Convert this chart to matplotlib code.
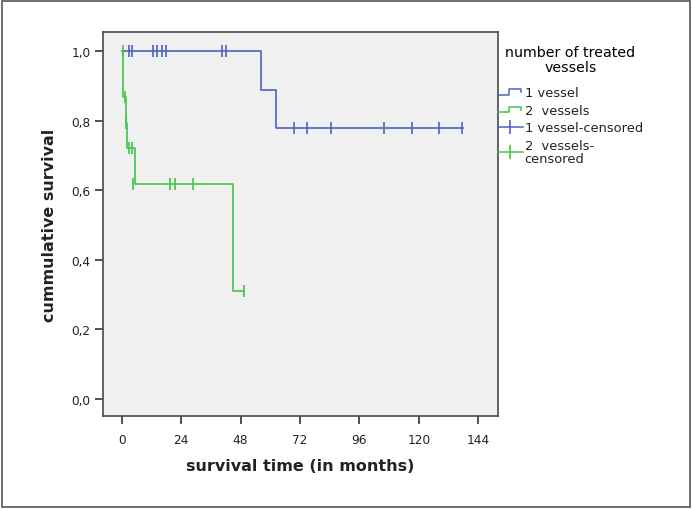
"""Kaplan-Meier survival by number of treated vessels (SPSS-style look)."""
import matplotlib
matplotlib.use("Agg")
import matplotlib.pyplot as plt
from matplotlib.legend_handler import HandlerBase
from matplotlib.lines import Line2D
from matplotlib.patches import Rectangle

BLUE, GREEN = "#4a63c2", "#44c44a"
FRAME, BG = "#4a4a4a", "#f0f0f0"

# 1 vessel: step curve (time in months, survival) and censored cases
one_t = [0.0, 56.3, 62.3, 138.0]
one_s = [1.0, 0.889, 0.778, 0.778]
one_cens_t = [3.1, 4.0, 12.8, 14.1, 16.2, 17.9, 40.4, 42.1,
              69.7, 75.0, 84.4, 106.1, 117.4, 128.1, 137.5]
one_cens_s = [1.0] * 8 + [0.778] * 7

# 2 vessels
two_t = [0.0, 0.6, 1.7, 2.3, 5.2, 45.1, 49.4]
two_s = [1.0, 0.867, 0.794, 0.722, 0.619, 0.309, 0.309]
two_cens_t = [0.6, 1.1, 1.9, 2.8, 4.1, 4.7, 19.5, 21.5, 28.7, 49.4]
two_cens_s = [1.0, 0.867, 0.794, 0.722, 0.722, 0.619, 0.619, 0.619,
              0.619, 0.309]

xticks = [0, 24, 48, 72, 96, 120, 144]
yticks = [0.0, 0.2, 0.4, 0.6, 0.8, 1.0]
ylabels = ["0,0", "0,2", "0,4", "0,6", "0,8", "1,0"]


class StepHandler(HandlerBase):
    def create_artists(self, legend, orig_handle, xdescent, ydescent,
                       width, height, fontsize, trans):
        x0, w, h = -xdescent, width, height
        lo, hi = -ydescent + 0.15 * h, -ydescent + 0.75 * h
        xs = [x0, x0 + 0.45 * w, x0 + 0.45 * w, x0 + 0.95 * w, x0 + 0.95 * w]
        ys = [lo, lo, hi, hi, hi - 0.35 * h]
        ln = Line2D(xs, ys, color=orig_handle.get_color(), lw=1.1,
                    transform=trans)
        return [ln]


fig = plt.figure(figsize=(6.92, 5.10), dpi=100)
fig.patches.append(Rectangle((0.003, 0.004), 0.994, 0.992, fill=False,
                             edgecolor="#555555", lw=1.2,
                             transform=fig.transFigure))
ax = fig.add_axes([0.1488, 0.1824, 0.5708, 0.7529])
ax.set_facecolor(BG)

ax.step(one_t, one_s, where="post", color=BLUE, lw=1.2)
ax.step(two_t, two_s, where="post", color=GREEN, lw=1.2)
ax.plot(one_cens_t, one_cens_s, "|", color=BLUE, ms=8, mew=1.2)
ax.plot(two_cens_t, two_cens_s, "|", color=GREEN, ms=8, mew=1.2)

ax.set_xlim(-7.6, 152.0)
ax.set_ylim(-0.049, 1.055)
ax.set_xticks(xticks)
ax.set_yticks(yticks)
ax.set_yticklabels(ylabels)
ax.tick_params(axis="both", direction="out", length=6, width=1.2,
               color="#333333", labelsize=8.7, labelcolor="#222222", pad=3)
ax.tick_params(axis="x", pad=6)
for s in ax.spines.values():
    s.set_color(FRAME)
    s.set_linewidth(1.2)

ax.set_xlabel("survival time (in months)", fontsize=11.5, fontweight="bold",
              labelpad=9, color="#222222")
ax.set_ylabel("cummulative survival", fontsize=11.5, fontweight="bold",
              labelpad=10, color="#222222")

handles = [Line2D([], [], color=BLUE), Line2D([], [], color=GREEN),
           Line2D([], [], color=BLUE, marker="|", ms=10, mew=1.2, lw=1.1),
           Line2D([], [], color=GREEN, marker="|", ms=10, mew=1.2, lw=1.1)]
labels = ["1 vessel", "2  vessels", "1 vessel-censored",
          "2  vessels-\ncensored"]
leg = fig.legend(handles, labels, title="number of treated\nvessels",
                 loc="upper left", bbox_to_anchor=(0.712, 0.921),
                 frameon=False, fontsize=9.4, title_fontsize=10.2,
                 handlelength=1.9, handletextpad=0.15, labelspacing=0.35,
                 borderaxespad=0,
                 handler_map={handles[0]: StepHandler(),
                              handles[1]: StepHandler()})
leg.get_title().set_multialignment("center")
leg.get_title().set_linespacing(1.1)
leg._legend_box.sep = 9
for t in leg.get_texts():
    t.set_color("#222222")
    t.set_linespacing(1.0)

fig.savefig("out.png", dpi=100, facecolor="white")
